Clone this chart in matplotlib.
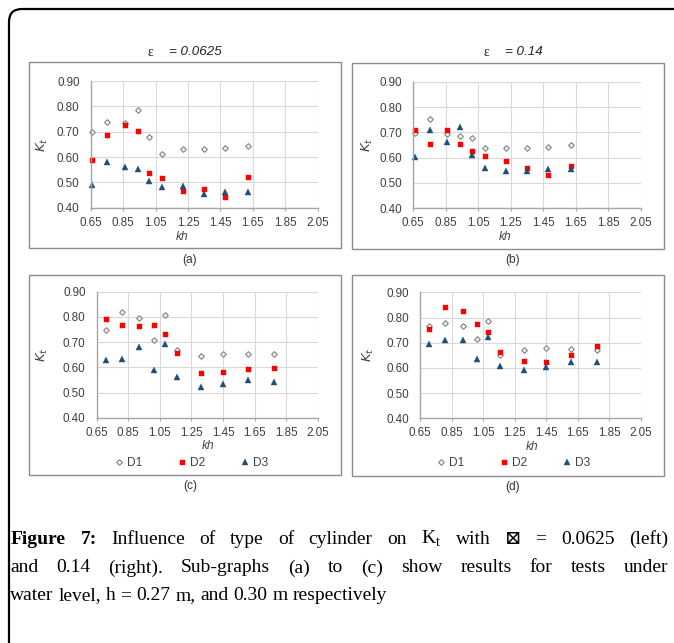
import matplotlib
matplotlib.use("Agg")
import matplotlib.pyplot as plt
from matplotlib.patches import Rectangle, PathPatch
from matplotlib.path import Path
from matplotlib.lines import Line2D

# ---------------- data ----------------
kh_ab = [0.66, 0.75, 0.86, 0.94, 1.01, 1.09, 1.22, 1.35, 1.48, 1.62]
a_D1 = [0.700, 0.737, 0.734, 0.786, 0.679, 0.611, 0.633, 0.632, 0.636, 0.643]
a_D2 = [0.588, 0.687, 0.726, 0.703, 0.536, 0.517, 0.466, 0.472, 0.442, 0.521]
a_D3 = [0.488, 0.580, 0.562, 0.553, 0.507, 0.483, 0.487, 0.454, 0.462, 0.462]
b_D1 = [0.696, 0.753, 0.693, 0.686, 0.678, 0.639, 0.638, 0.639, 0.642, 0.651]
b_D2 = [0.709, 0.653, 0.709, 0.654, 0.626, 0.608, 0.587, 0.561, 0.533, 0.568]
b_D3 = [0.604, 0.709, 0.662, 0.721, 0.612, 0.558, 0.547, 0.546, 0.554, 0.555]
kh_cd = [0.71, 0.81, 0.92, 1.01, 1.08, 1.16, 1.31, 1.45, 1.61, 1.77]
c_D1 = [0.747, 0.819, 0.796, 0.708, 0.807, 0.668, 0.646, 0.651, 0.652, 0.654]
c_D2 = [0.792, 0.769, 0.765, 0.769, 0.733, 0.655, 0.578, 0.583, 0.595, 0.599]
c_D3 = [0.630, 0.634, 0.680, 0.589, 0.693, 0.563, 0.523, 0.535, 0.551, 0.541]
d_D1 = [0.765, 0.777, 0.768, 0.715, 0.785, 0.652, 0.670, 0.678, 0.674, 0.671]
d_D2 = [0.756, 0.841, 0.827, 0.773, 0.742, 0.663, 0.629, 0.625, 0.653, 0.686]
d_D3 = [0.695, 0.710, 0.710, 0.637, 0.724, 0.606, 0.593, 0.605, 0.622, 0.623]

series_names = ["D1", "D2", "D3"]
x_ticks = [0.65, 0.85, 1.05, 1.25, 1.45, 1.65, 1.85, 2.05]
y_ticks = [0.40, 0.50, 0.60, 0.70, 0.80, 0.90]
titles = ["0.0625", "0.14"]
panel_labels = ["(a)", "(b)", "(c)", "(d)"]

W, H = 674, 643
fig = plt.figure(figsize=(W / 100, H / 100), dpi=100)
fig.patch.set_facecolor("white")

def fx(px):
    return px / W

def fy(py):
    return 1 - py / H

SANS = ["Liberation Sans", "DejaVu Sans"]
SERIF = ["Liberation Serif", "DejaVu Serif", "DejaVu Sans"]
TXT = "#404040"

# outer frame with rounded top-left corner
verts = [(fx(9), fy(643)), (fx(9), fy(22)), (fx(9), fy(9)), (fx(22), fy(9)), (fx(674), fy(9))]
codes = [Path.MOVETO, Path.LINETO, Path.CURVE3, Path.CURVE3, Path.LINETO]
fig.add_artist(PathPatch(Path(verts, codes), transform=fig.transFigure,
                         fill=False, lw=1.6, edgecolor="black"))

# panel boxes (pixels: x0, y0, x1, y1)
boxes = [(29, 62, 341, 248), (352, 63, 664, 249), (29, 275, 341, 475), (352, 275, 664, 476)]
for (x0, y0, x1, y1) in boxes:
    fig.add_artist(Rectangle((fx(x0), fy(y1)), fx(x1) - fx(x0), fy(y0) - fy(y1),
                             transform=fig.transFigure, fill=False,
                             edgecolor="#8c8c8c", lw=1.0))

# axes (pixels: left, top, right, bottom)
ax_px = [(90.7, 81.0, 317.7, 207.7), (413.3, 81.7, 641.0, 208.3),
         (96.7, 291.7, 317.7, 417.7), (420.0, 292.3, 640.7, 418.3)]
data = [(kh_ab, a_D1, a_D2, a_D3), (kh_ab, b_D1, b_D2, b_D3),
        (kh_cd, c_D1, c_D2, c_D3), (kh_cd, d_D1, d_D2, d_D3)]

styles = [dict(marker="D", ms=2.9, mfc="white", mec="#7f7f7f", mew=0.8),
          dict(marker="s", ms=3.6, mfc="#ff0000", mec="#ff0000", mew=0.3),
          dict(marker="^", ms=4.6, mfc="#1f4e79", mec="#1f4e79", mew=0.3)]

axes = []
for i, ((l, t, r, b), (xs, s1, s2, s3)) in enumerate(zip(ax_px, data)):
    ax = fig.add_axes([fx(l), fy(b), fx(r) - fx(l), fy(t) - fy(b)])
    for ys, st, nm in zip((s1, s2, s3), styles, series_names):
        ax.plot(xs, ys, linestyle="none", label=nm, clip_on=False, **st)
    ax.set_xlim(0.65, 2.05)
    ax.set_ylim(0.40, 0.90)
    ax.set_xticks(x_ticks)
    ax.set_yticks(y_ticks)
    ax.set_xticklabels([f"{v:.2f}" for v in x_ticks], family=SANS, fontsize=8.4, color=TXT)
    ax.set_yticklabels([f"{v:.2f}" for v in y_ticks], family=SANS, fontsize=8.4, color=TXT)
    ax.grid(True, color="#d9d9d9", lw=0.8)
    ax.set_axisbelow(True)
    for sp in ("top", "right"):
        ax.spines[sp].set_visible(False)
    for sp in ("left", "bottom"):
        ax.spines[sp].set_color("#a6a6a6")
        ax.spines[sp].set_linewidth(1.0)
    ax.tick_params(axis="x", length=2.5, color="#a6a6a6", pad=4)
    ax.tick_params(axis="y", length=0, pad=8)
    axes.append(ax)

# titles
fig.text(fx(150), fy(52), "\u03b5", family=SERIF, fontsize=10, ha="center", va="center", color="#222222")
fig.text(fx(169), fy(52), "= " + titles[0], family=SANS, style="italic", fontsize=9.6,
         ha="left", va="center", color="#222222")
fig.text(fx(486), fy(52), "\u03b5", family=SERIF, fontsize=10, ha="center", va="center", color="#222222")
fig.text(fx(505), fy(52), "= " + titles[1], family=SANS, style="italic", fontsize=9.6,
         ha="left", va="center", color="#222222")

# axis labels
kh_pos = [(182, 237), (505, 237), (208, 446), (532, 447)]
kt_pos = [(42, 145), (367, 145), (42, 355), (368, 355)]
for (x, y) in kh_pos:
    fig.text(fx(x), fy(y), "kh", family=SANS, style="italic", fontsize=8.6,
             ha="center", va="center", color=TXT)
for (x, y) in kt_pos:
    fig.text(fx(x), fy(y), r"$K_t$", fontsize=9.5, rotation=90,
             ha="center", va="center", color=TXT)

# panel letters
lab_pos = [(190, 260), (513, 260), (190, 486), (513, 487)]
for (x, y), s in zip(lab_pos, panel_labels):
    fig.text(fx(x), fy(y), s, family=SANS, fontsize=8.6, ha="center", va="center", color="#333333")

# legends for (c) and (d)
for ax, xc in ((axes[2], 191), (axes[3], 513)):
    handles = [Line2D([], [], linestyle="none", **st) for st in styles]
    leg = ax.legend(handles, series_names, loc="center", ncol=3,
                    bbox_to_anchor=(fx(xc), fy(463)), bbox_transform=fig.transFigure,
                    frameon=False, handlelength=0.8, handletextpad=0.3,
                    columnspacing=2.9, borderpad=0, prop={"family": SANS, "size": 8.6})
    for t in leg.get_texts():
        t.set_color(TXT)

# caption (justified)
fig.canvas.draw()
rend = fig.canvas.get_renderer()
CAP = 14

def place_line(words, ybase, x0, x1, justify):
    arts = []
    for w, props in words:
        a = fig.text(0, fy(ybase), w, ha="left", va="baseline", color="black", **props)
        arts.append(a)
    widths = [a.get_window_extent(rend).width for a in arts]
    if justify and len(arts) > 1:
        gap = (x1 - x0 - sum(widths)) / (len(arts) - 1)
    else:
        sp = fig.text(0, 0, "a a", fontsize=CAP, family=SERIF)
        sp2 = fig.text(0, 0, "aa", fontsize=CAP, family=SERIF)
        gap = sp.get_window_extent(rend).width - sp2.get_window_extent(rend).width
        sp.remove(); sp2.remove()
    x = x0
    for a, w in zip(arts, widths):
        a.set_x(fx(x))
        x += w + gap

reg = dict(family=SERIF, fontsize=CAP)
bold = dict(family=SERIF, fontsize=CAP, weight="bold")
line1 = [("Figure", bold), ("7:", bold)] + [(w, reg) for w in
         ["Influence", "of", "type", "of", "cylinder", "on", r"K$_{\mathregular{t}}$",
          "with", "\u22a0", "=", "0.0625", "(left)"]]
line2 = [(w, reg) for w in "and 0.14 (right). Sub-graphs (a) to (c) show results for tests under".split()]
line3 = [(w, reg) for w in "water level, h = 0.27 m, and 0.30 m respectively".split()]
place_line(line1, 543.5, 11, 668, True)
place_line(line2, 572.5, 10, 668, True)
place_line(line3, 600.5, 10, 668, False)

fig.savefig("out.png", dpi=100)
